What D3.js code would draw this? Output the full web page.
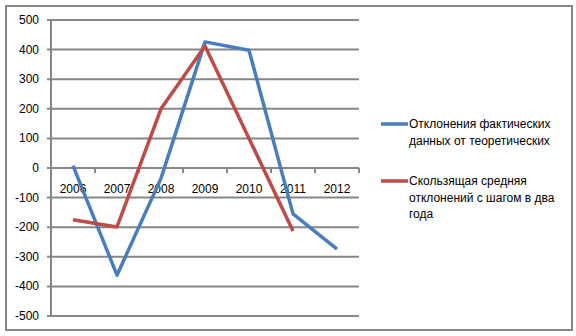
<!DOCTYPE html>
<html>
<head>
<meta charset="utf-8">
<script src="https://cdn.jsdelivr.net/npm/d3@7"></script>
<style>
  body { margin: 0; background: #fff; }
  text { font-family: "Liberation Sans", Arial, sans-serif; }
</style>
</head>
<body>
<div id="chart"></div>
<script>
  var years = ["2006", "2007", "2008", "2009", "2010", "2011", "2012"];
  var deviations = [8, -362, -35, 426, 398, -155, -274];
  var movingAvg = [-175, -199, 200, 412, 100, -213];
  var yTicks = [-500, -400, -300, -200, -100, 0, 100, 200, 300, 400, 500];
  var seriesNames = [
    ["Отклонения фактических", "данных от теоретических"],
    ["Скользящая средняя", "отклонений с шагом в два", "года"]
  ];
  var colors = ["#4a7ebb", "#be4b48"];

  var width = 576, height = 336;
  var svg = d3.select("#chart").append("svg")
    .attr("width", width).attr("height", height);

  // outer frame
  svg.append("rect")
    .attr("x", 6).attr("y", 6).attr("width", 566).attr("height", 324)
    .attr("fill", "none").attr("stroke", "#868686").attr("stroke-width", 2);

  var x = d3.scaleBand().domain(years).range([51, 359]);
  var y = d3.scaleLinear().domain([-500, 500]).range([316, 20]);

  // gridlines
  svg.append("g").selectAll("line").data(yTicks).enter().append("line")
    .attr("x1", 47).attr("x2", 359)
    .attr("y1", d => y(d)).attr("y2", d => y(d))
    .attr("stroke", "#868686").attr("stroke-width", 2);

  // y axis
  svg.append("line")
    .attr("x1", 51).attr("x2", 51).attr("y1", y(500)).attr("y2", y(-500))
    .attr("stroke", "#868686").attr("stroke-width", 2);
  svg.append("g").selectAll("text").data(yTicks).enter().append("text")
    .attr("x", 39).attr("y", d => y(d) + 4)
    .attr("text-anchor", "end").attr("font-size", "12px").attr("fill", "#000")
    .text(d => d);

  // x axis on the zero line
  var xAxis = svg.append("g")
    .attr("transform", "translate(0," + y(0) + ")")
    .call(d3.axisBottom(x).tickSize(0).tickPadding(0));
  xAxis.select(".domain").remove();
  xAxis.selectAll("text").attr("y", 16).attr("font-size", "12px")
    .attr("fill", "#000").style("font-family", "Liberation Sans, Arial, sans-serif");
  var bounds = years.map(d => x(d)).concat([x.range()[1]]);
  svg.append("g").selectAll("line").data(bounds.slice(1)).enter().append("line")
    .attr("x1", d => d).attr("x2", d => d)
    .attr("y1", y(0)).attr("y2", y(0) + 5)
    .attr("stroke", "#868686").attr("stroke-width", 2);

  var line = d3.line()
    .x((d, i) => x(years[i]) + x.bandwidth() / 2)
    .y(d => y(d));

  [deviations, movingAvg].forEach(function(s, i) {
    svg.append("path").datum(s)
      .attr("d", line)
      .attr("fill", "none")
      .attr("stroke", colors[i])
      .attr("stroke-width", 3.5)
      .attr("stroke-linejoin", "round");
  });

  // legend
  var legendY = [124, 181];
  seriesNames.forEach(function(lines, i) {
    svg.append("line")
      .attr("x1", 381).attr("x2", 408)
      .attr("y1", legendY[i]).attr("y2", legendY[i])
      .attr("stroke", colors[i]).attr("stroke-width", 3.5);
    lines.forEach(function(t, j) {
      svg.append("text")
        .attr("x", 409).attr("y", legendY[i] + 4 + j * 16.5)
        .attr("font-size", "12px").attr("fill", "#000")
        .text(t);
    });
  });
</script>
</body>
</html>
